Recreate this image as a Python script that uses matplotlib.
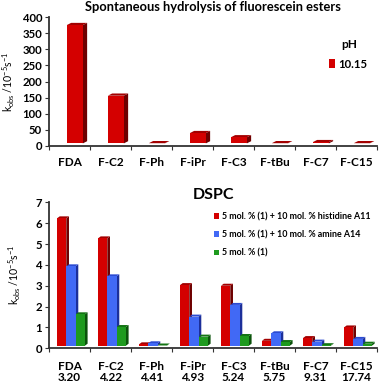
import matplotlib
matplotlib.use("Agg")
import matplotlib.pyplot as plt
from matplotlib.patches import Polygon, Patch
import numpy as np

# ---------------- data ----------------
esters = ["FDA", "F-C2", "F-Ph", "F-iPr", "F-C3", "F-tBu", "F-C7", "F-C15"]
logp = ["3.20", "4.22", "4.41", "4.93", "5.24", "5.75", "9.31", "17.74"]

ph_label = "10.15"
k_spont = [375, 156, 3, 40, 27, 2, 12, 3]

dspc_labels = ["5 mol. % (1) + 10 mol. % histidine A11",
               "5 mol. % (1) + 10 mol. % amine A14",
               "5 mol. % (1)"]
k_his = [6.23, 5.27, 0.19, 3.03, 3.00, 0.36, 0.49, 1.00]
k_amine = [3.93, 3.45, 0.24, 1.52, 2.08, 0.72, 0.32, 0.45]
k_plain = [1.63, 1.02, 0.10, 0.56, 0.59, 0.30, 0.15, 0.22]

# colours: (front, side, top)
RED = ("#d40000", "#6e0000", "#a30000")
BLUE = ("#4169f5", "#1c2f9a", "#2c4bd2")
GREEN = ("#1e9a1e", "#0b520b", "#147414")

W, H = 379, 383
DPI = 100
plt.rcParams['font.family'] = ['Lato', 'DejaVu Sans']
plt.rcParams['mathtext.fontset'] = 'custom'
plt.rcParams['mathtext.rm'] = 'Lato'
plt.rcParams['mathtext.it'] = 'Lato:italic'
fig = plt.figure(figsize=(W / DPI, H / DPI), dpi=DPI)


def add_ax(l, t, r, b):
    return fig.add_axes([l / W, 1 - b / H, (r - l) / W, (b - t) / H])


def bars3d(ax, xpos, vals, width, ymax, ax_w_px, ax_h_px, colors,
           dx_px, dy_px, base_px):
    xs = 8.0 / ax_w_px   # data per px (x range = 8)
    ys = ymax / ax_h_px
    dx, dy, base = dx_px * xs, dy_px * ys, base_px * ys
    front, side, top = colors
    heights = [max(v - base, 0.2 * ys) for v in vals]
    ax.bar(xpos, heights, width=width, bottom=base, align="edge",
           color=front, edgecolor="none", zorder=3)
    for x0, v, h in zip(xpos, vals, heights):
        t = base + h
        ax.add_patch(Polygon([(x0 + width, base), (x0 + width + dx, base + dy),
                              (x0 + width + dx, t + dy), (x0 + width, t)],
                             closed=True, facecolor=side, edgecolor="none", zorder=2))
        ax.add_patch(Polygon([(x0, t), (x0 + width, t), (x0 + width + dx, t + dy),
                              (x0 + dx, t + dy)],
                             closed=True, facecolor=top, edgecolor="none", zorder=2))


def style_axes(ax, ymax, ystep, labels):
    ax.set_xlim(0, 8)
    ax.set_ylim(0, ymax)
    for s in ["top", "right"]:
        ax.spines[s].set_visible(False)
    for s in ["left", "bottom"]:
        ax.spines[s].set_color("#333333")
        ax.spines[s].set_linewidth(1.3)
    ax.set_yticks(np.arange(0, ymax + 0.001, ystep))
    ax.set_xticks(np.arange(0, 9))
    ax.set_xticklabels([])
    ax.set_xticks(np.arange(8) + 0.5, minor=True)
    ax.set_xticklabels(labels, minor=True)
    ax.tick_params(axis="x", which="major", length=3, direction="out", color="#333333")
    ax.tick_params(axis="x", which="minor", length=0)
    ax.tick_params(axis="y", length=3, direction="out", color="#333333", pad=2)
    for lab in ax.get_yticklabels():
        lab.set_fontweight("bold")
        lab.set_fontsize(8.2)
    for lab in ax.get_xticklabels(minor=True):
        lab.set_fontweight("bold")
        lab.set_fontsize(8.5)


ylab = r"k$_{\mathrm{obs}}$ /10$^{-5}$s$^{-1}$"
cats = np.arange(8)

# ---------------- top chart ----------------
L1, T1, R1, B1 = 49, 17, 377, 146
ax1 = add_ax(L1, T1, R1, B1)
bars3d(ax1, cats + 0.5 + 0.13 - 0.195, k_spont, 0.39, 400, R1 - L1, B1 - T1,
       RED, 4.3, 2.2, 2.6)
style_axes(ax1, 400, 50, esters)
ax1.tick_params(axis="x", which="minor", pad=8)
ax1.set_title("Spontaneous hydrolysis of fluorescein esters", fontsize=9.3,
              fontweight="bold", pad=4)
ax1.set_ylabel(ylab, fontsize=7.6, labelpad=4)
ax1.legend(handles=[Patch(facecolor=RED[0], label=ph_label)],
           loc="center left", bbox_to_anchor=((331 - L1 - 2) / (R1 - L1), (B1 - 64) / (B1 - T1)),
           frameon=False, handlelength=0.55, handleheight=0.75, borderpad=0,
           borderaxespad=0, handletextpad=0.3, prop={"weight": "bold", "size": 8.2})
ax1.text((349.5 - L1) / (R1 - L1), (B1 - 45) / (B1 - T1), "pH", transform=ax1.transAxes,
         ha="center", va="center", fontsize=8.6, fontweight="bold")

# ---------------- bottom chart ----------------
L2, T2, R2, B2 = 49, 202.3, 377, 348.3
ax2 = add_ax(L2, T2, R2, B2)
bw = 0.227
start = cats + 0.5 + 0.035 - 1.5 * bw
for i, (vals, col) in enumerate([(k_his, RED), (k_amine, BLUE), (k_plain, GREEN)]):
    bars3d(ax2, start + i * bw, vals, bw, 7, R2 - L2, B2 - T2, col, 2.7, 2.0, 2.6)
style_axes(ax2, 7, 1, [f"{a}\n{b}" for a, b in zip(esters, logp)])
for lab in ax2.get_xticklabels(minor=True):
    lab.set_linespacing(1.0)
ax2.tick_params(axis="x", which="minor", pad=9)
ax2.set_title("DSPC", fontsize=11.5, fontweight="bold", pad=1)
ax2.set_ylabel(ylab, fontsize=7.6, labelpad=9)
handles = [Patch(facecolor=c[0], label=l) for c, l in zip([RED, BLUE, GREEN], dspc_labels)]
ax2.legend(handles=handles, loc="upper left",
           bbox_to_anchor=((214 - L2) / (R2 - L2), (B2 - 212) / (B2 - T2)),
           frameon=False, handlelength=0.6, handleheight=0.6, handletextpad=0.25,
           labelspacing=1.05, borderaxespad=0, borderpad=0,
           prop={"weight": "bold", "size": 6.4})

fig.savefig("out.png", dpi=DPI)
